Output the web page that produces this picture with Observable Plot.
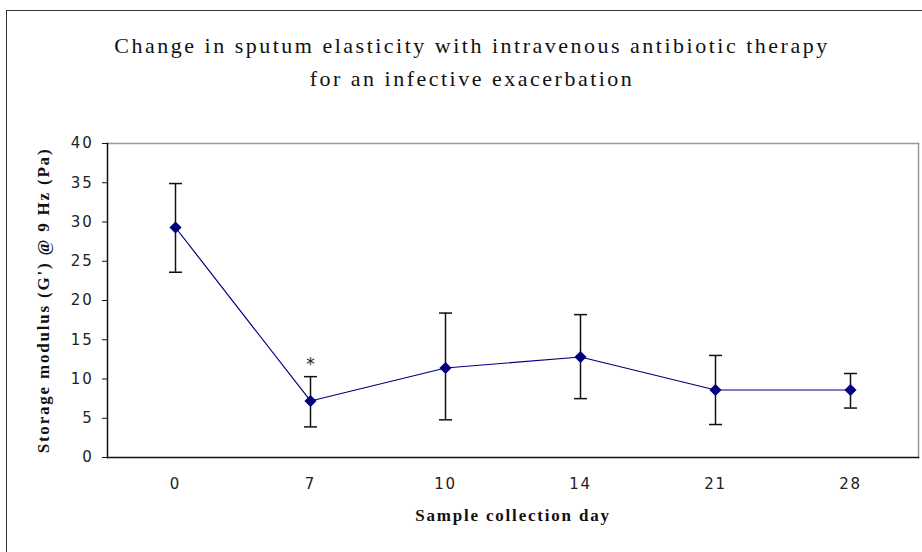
<!DOCTYPE html>
<html>
<head>
<meta charset="utf-8">
<script src="https://cdn.jsdelivr.net/npm/d3@7"></script>
<script src="https://cdn.jsdelivr.net/npm/@observablehq/plot@0.6"></script>
<style>
  html, body { margin: 0; padding: 0; background: #fff; width: 922px; height: 552px; overflow: hidden; }
  #wrap { position: relative; width: 922px; height: 552px; }
  #border { position: absolute; left: 6px; top: 10px; width: 960px; height: 600px; border: 1.5px solid #333; box-sizing: border-box; }
  #title { position: absolute; left: 0; width: 944px; top: 29px; text-align: center;
           font-family: "Liberation Serif", serif; font-size: 22px; letter-spacing: 2.5px; line-height: 33px; color: #111; }
  #chart { position: absolute; left: 0; top: 0; }
  #chart svg g[aria-label="y-axis label"] text,
  #chart svg g[aria-label="x-axis label"] text { font-family: "Liberation Serif", serif; font-weight: bold; font-size: 17px; letter-spacing: 1.8px; fill: #111; }
  #chart svg g[aria-label="y-axis tick label"] text,
  #chart svg g[aria-label="x-axis tick label"] text { font-family: "DejaVu Sans", sans-serif; font-size: 15px; letter-spacing: 1.8px; fill: #222; }
</style>
</head>
<body>
<div id="wrap">
  <div id="border"></div>
  <div id="title">Change in sputum elasticity with intravenous antibiotic therapy<br>for an infective exacerbation</div>
  <div id="chart"></div>
</div>
<script>
const days = ["0", "7", "10", "14", "21", "28"];
const means = [29.3, 7.2, 11.4, 12.8, 8.6, 8.6];
const upper = [34.9, 10.3, 18.4, 18.2, 13.0, 10.7];
const lower = [23.6, 3.9, 4.8, 7.5, 4.2, 6.3];
const marks = ["", "*", "", "", "", ""];
const yTicks = [0, 5, 10, 15, 20, 25, 30, 35, 40];

const data = days.map((d, i) => ({day: d, mean: means[i], hi: upper[i], lo: lower[i], sig: marks[i]}));

const cap = {draw(ctx) { ctx.moveTo(-6.5, 0); ctx.lineTo(6.5, 0); }};

const plot = Plot.plot({
  width: 922,
  height: 552,
  marginLeft: 107,
  marginRight: 4,
  marginTop: 143,
  marginBottom: 95,
  style: {fontFamily: "DejaVu Sans, sans-serif", fontSize: "15px", color: "#222", background: "transparent", overflow: "visible"},
  x: {type: "point", domain: days, padding: 0.5, label: null},
  y: {domain: [0, 40], label: null},
  marks: [
    Plot.frame({anchor: "top", stroke: "#999", strokeWidth: 1.5}),
    Plot.frame({anchor: "right", stroke: "#999", strokeWidth: 1.5}),
    Plot.frame({anchor: "left", stroke: "#111", strokeWidth: 1.5}),
    Plot.frame({anchor: "bottom", stroke: "#111", strokeWidth: 1.5}),
    Plot.axisY(yTicks, {tickSize: 5, tickPadding: 9, label: "Storage modulus (G') @ 9 Hz (Pa)", labelArrow: "none", labelAnchor: "center", labelOffset: 71, stroke: "#111", fill: "#222"}),
    Plot.axisX({tickSize: 0, tickPadding: 21, label: "Sample collection day", labelArrow: "none", labelAnchor: "center", labelOffset: 63, fill: "#222"}),
    Plot.ruleX(data, {x: "day", y1: "lo", y2: "hi", stroke: "#111", strokeWidth: 1.5}),
    Plot.dot(data, {x: "day", y: "hi", symbol: cap, r: 5, stroke: "#111", fill: "none", strokeWidth: 1.5}),
    Plot.dot(data, {x: "day", y: "lo", symbol: cap, r: 5, stroke: "#111", fill: "none", strokeWidth: 1.5}),
    Plot.line(data, {x: "day", y: "mean", stroke: "#000080", strokeWidth: 1.2}),
    Plot.dot(data, {x: "day", y: "mean", symbol: "diamond2", r: 5.5, fill: "#000080", stroke: "none"}),
    Plot.text(data, {x: "day", y: "hi", text: "sig", dy: -12, fontSize: 17, fill: "#222"})
  ]
});
document.getElementById("chart").appendChild(plot);
</script>
</body>
</html>
